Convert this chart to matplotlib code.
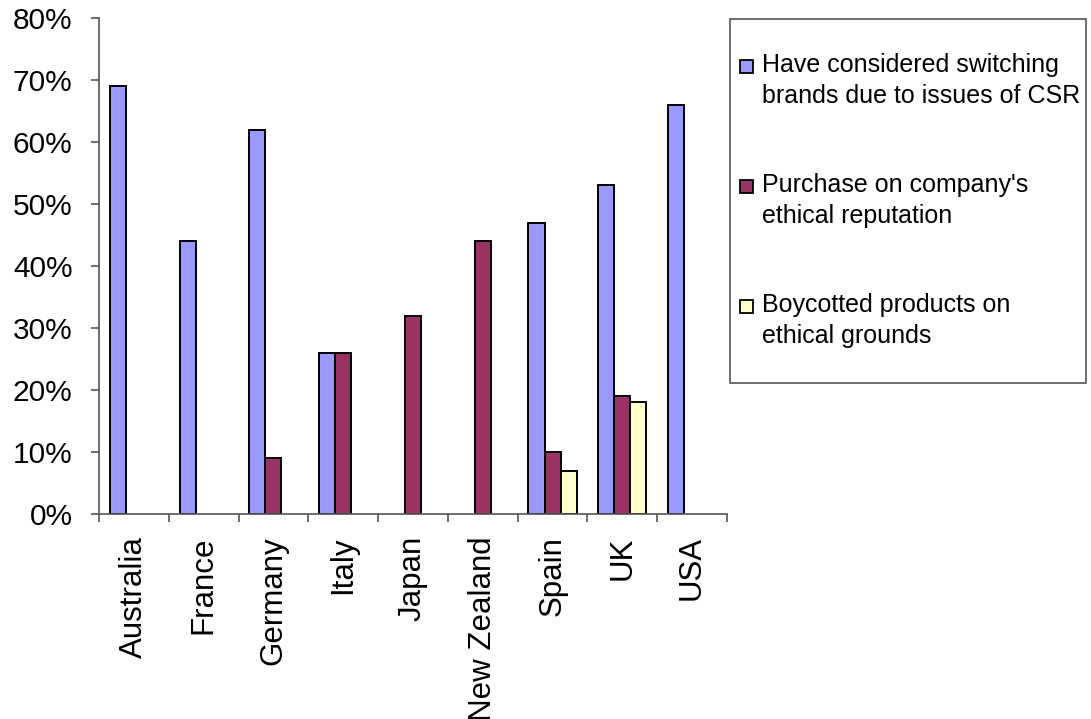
import numpy as np
import matplotlib.pyplot as plt
from matplotlib.patches import Rectangle
from matplotlib.ticker import PercentFormatter, FixedLocator

plt.rcParams['font.family'] = ['Liberation Sans', 'DejaVu Sans']

countries = ['Australia', 'France', 'Germany', 'Italy', 'Japan',
             'New Zealand', 'Spain', 'UK', 'USA']
series_names = ['Have considered switching\nbrands due to issues of CSR',
                "Purchase on company's\nethical reputation",
                'Boycotted products on\nethical grounds']
switching = [0.69, 0.44, 0.62, 0.26, None, None, 0.47, 0.53, 0.66]
reputation = [None, None, 0.09, 0.26, 0.32, 0.44, 0.10, 0.19, None]
boycotted = [None, None, None, None, None, None, 0.07, 0.18, None]
colors = ['#9999FF', '#993366', '#FFFFCC']

W, H = 1091, 719
fig = plt.figure(figsize=(W / 100, H / 100), dpi=100)
ax = fig.add_axes([99 / W, 1 - 514 / H, 628 / W, 496 / H])

x = np.arange(len(countries)) + 0.5
w = 0.23
for k, (vals, c) in enumerate(zip([switching, reputation, boycotted], colors)):
    xs = [xi + (k - 1) * w for xi, v in zip(x, vals) if v is not None]
    hs = [v for v in vals if v is not None]
    ax.bar(xs, hs, width=w, color=c, edgecolor='black', linewidth=1.4, zorder=2)

ax.set_xlim(0, len(countries))
ax.set_ylim(0, 0.8)
ax.set_yticks(np.arange(0, 0.81, 0.1))
ax.yaxis.set_major_formatter(PercentFormatter(1.0, decimals=0))
ax.set_xticks(x)
ax.set_xticklabels(countries, rotation=90, va='top', ha='center')
ax.xaxis.set_minor_locator(FixedLocator(np.arange(0, len(countries) + 1)))
ax.tick_params(axis='x', which='major', length=0, pad=16, labelsize=22.5)
ax.tick_params(axis='x', which='minor', length=6, width=1.2, color='#555555', direction='out')
ax.tick_params(axis='y', length=6, width=1.2, color='#555555', pad=13, labelsize=21.5)

for s in ['top', 'right']:
    ax.spines[s].set_visible(False)
for s in ['left', 'bottom']:
    ax.spines[s].set_color('#555555')
    ax.spines[s].set_linewidth(1.2)

# legend box drawn by hand so the handle sits on the first line of each label
fig.patches.append(Rectangle((730 / W, 1 - 383 / H), 356 / W, 364 / H,
                             transform=fig.transFigure, fill=False,
                             edgecolor='#555555', linewidth=1.2))
for i, (name, c) in enumerate(zip(series_names, colors)):
    top = 53 + i * 120
    fig.patches.append(Rectangle((740 / W, 1 - (top + 20) / H), 13 / W, 13 / H,
                                 transform=fig.transFigure, facecolor=c,
                                 edgecolor='black', linewidth=1.3))
    fig.text(762 / W, 1 - top / H, name, fontsize=18, va='top', ha='left',
             linespacing=1.35)

fig.savefig('out.png', dpi=100)
